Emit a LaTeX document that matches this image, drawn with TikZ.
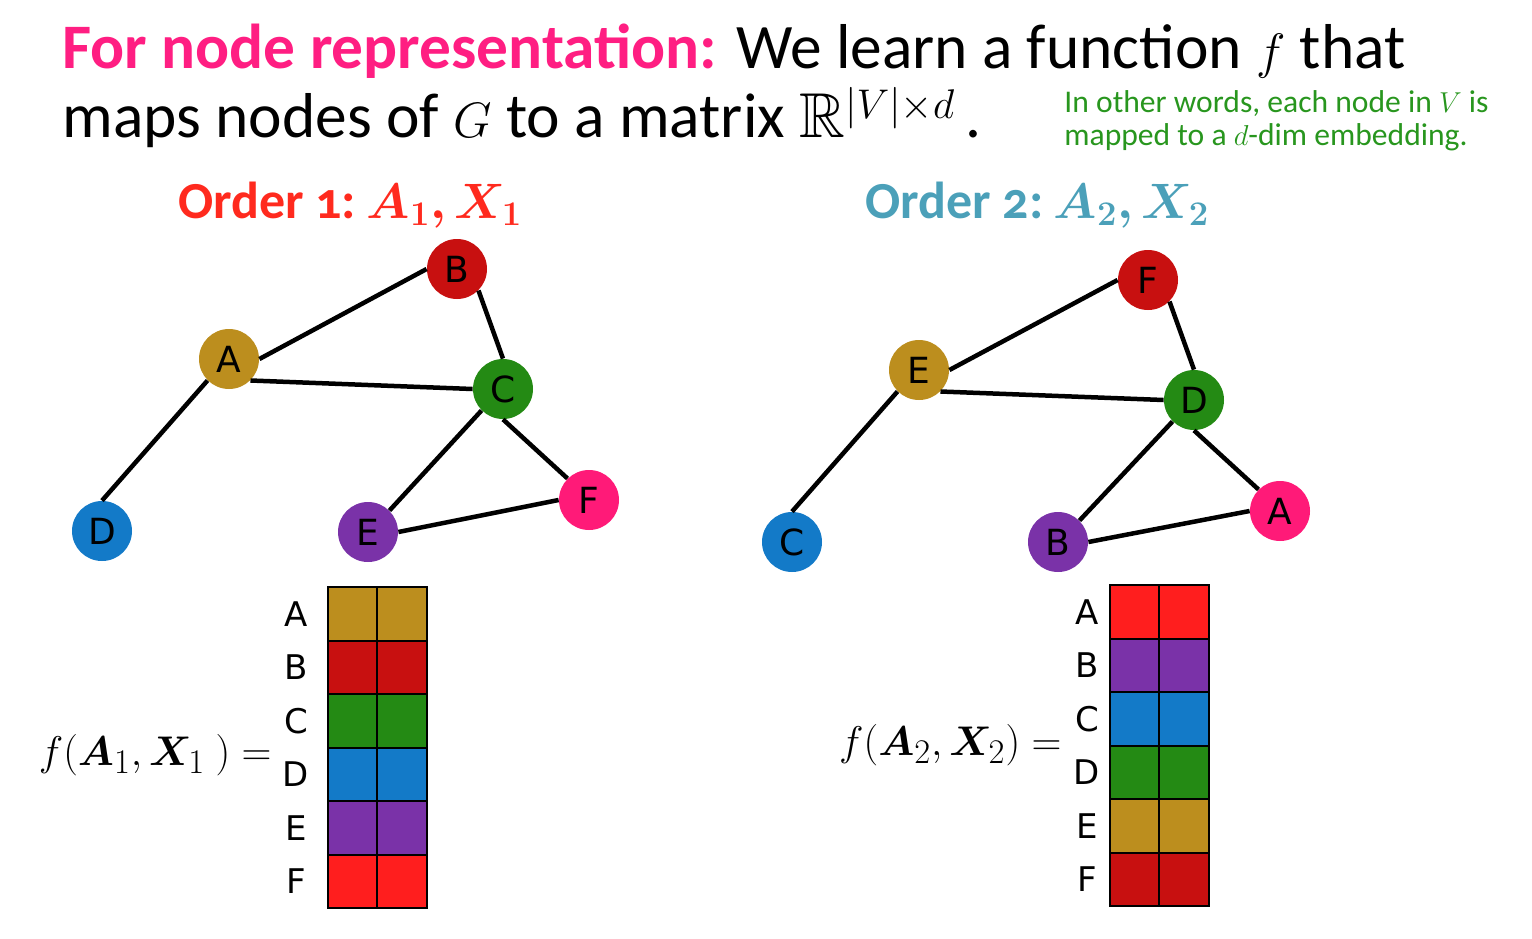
\documentclass[tikz,border=0pt]{standalone}
\usepackage{fontspec}
\usepackage{amsmath}
\usepackage{amssymb}
\usepackage{bm}
\setmainfont{Carlito}
\newfontfamily\nodefont{DejaVu Sans}
\usetikzlibrary{shapes}

\definecolor{nodegold}{RGB}{188,142,30}
\definecolor{nodered}{RGB}{200,16,16}
\definecolor{nodegreen}{RGB}{36,138,20}
\definecolor{nodeblue}{RGB}{19,122,200}
\definecolor{nodepurple}{RGB}{122,50,168}
\definecolor{nodepink}{RGB}{255,26,120}
\definecolor{cellred}{RGB}{255,30,30}
\definecolor{headpink}{RGB}{255,30,130}
\definecolor{notegreen}{RGB}{40,150,30}
\definecolor{orderred}{RGB}{255,42,30}
\definecolor{orderteal}{RGB}{75,160,185}

\tikzset{
	vertex/.style = {shape = circle,
					 minimum size = 30pt,
					 inner sep = 0pt,
					 font = \nodefont\fontsize{18}{18}\selectfont},
	edge/.style = {line width = 2.25pt},
	cell/.style = {draw = black,
				   line width = 1pt,
				   minimum width = 24.75pt,
				   minimum height = 26.75pt,
				   inner sep = 0pt,
				   outer sep = 0pt},
	rowlabel/.style = {font = \nodefont\fontsize{17}{17}\selectfont},
	plain/.style = {inner sep = 0pt}
}

\begin{document}
\begin{tikzpicture}[x = 0.5pt, y = -0.5pt]
	\useasboundingbox (0,0) rectangle (1532,938);

	% heading
	\draw (62,137) node[plain,
						anchor = base west,
						align = left,
						font = \fontsize{31.7}{34.5}\selectfont](head)
		{\textcolor{headpink}{\bfseries For node representation:} We learn a function $f$ that\\
		 maps nodes of $G$ to a matrix $\mathbb{R}^{|V|\times d}$\,.};
	\draw (1064,145) node[plain,
						  anchor = base west,
						  align = left,
						  text = notegreen,
						  font = \fontsize{15.8}{16.5}\selectfont](note)
		{In other words, each node in $V$ is\\
		 mapped to a $d$-dim embedding.};

	\draw (178,218) node[plain,
						 anchor = base west,
						 text = orderred,
						 font = \bfseries\fontsize{26}{30}\selectfont](order1)
		{Order {\addfontfeatures{Numbers=OldStyle}1}:\hspace{0.2em}$\bm{A_1{,}\mkern3mu X_1}$};
	\draw (865,218) node[plain,
						 anchor = base west,
						 text = orderteal,
						 font = \bfseries\fontsize{26}{30}\selectfont](order2)
		{Order {\addfontfeatures{Numbers=OldStyle}2}:\hspace{0.2em}$\bm{A_2{,}\mkern3mu X_2}$};

	% order 1 graph
	\draw (229,359) node[vertex, fill = nodegold](A1) {A};
	\draw (457,269) node[vertex, fill = nodered](B1) {B};
	\draw (503,389) node[vertex, fill = nodegreen](C1) {C};
	\draw (102,531) node[vertex, fill = nodeblue](D1) {D};
	\draw (368,532) node[vertex, fill = nodepurple](E1) {E};
	\draw (589,500) node[vertex, fill = nodepink](F1) {F};

	\draw[edge] (A1.0) -- (B1.180);
	\draw[edge] (A1.-45) -- (C1.180);
	\draw[edge] (A1.-135) -- (D1.90);
	\draw[edge] (B1.-45) -- (C1.90);
	\draw[edge] (C1.-135) -- (E1.45);
	\draw[edge] (C1.-90) -- (F1.135);
	\draw[edge] (E1.0) -- (F1.180);

	% order 2 graph
	\draw (1280,511) node[vertex, fill = nodepink](A2) {A};
	\draw (1058,542) node[vertex, fill = nodepurple](B2) {B};
	\draw (792,542) node[vertex, fill = nodeblue](C2) {C};
	\draw (1194,400) node[vertex, fill = nodegreen](D2) {D};
	\draw (919,370) node[vertex, fill = nodegold](E2) {E};
	\draw (1148,280) node[vertex, fill = nodered](F2) {F};

	\draw[edge] (E2.0) -- (F2.180);
	\draw[edge] (E2.-45) -- (D2.180);
	\draw[edge] (E2.-135) -- (C2.90);
	\draw[edge] (F2.-45) -- (D2.90);
	\draw[edge] (D2.-135) -- (B2.45);
	\draw[edge] (D2.-90) -- (A2.135);
	\draw[edge] (B2.0) -- (A2.180);

	% order 1 embedding
	\draw (272,755) node[plain,
						 anchor = east,
						 font = \fontsize{22.8}{26}\selectfont](f1)
		{$f(\bm{A}_1,\bm{X}_1\ )=$};
	\draw (352.5,614) node[cell, fill = nodegold](mA1a) {} (402,614) node[cell, fill = nodegold](mA1b) {} (296,614) node[rowlabel](tA1) {A};
	\draw (352.5,667.5) node[cell, fill = nodered](mB1a) {} (402,667.5) node[cell, fill = nodered](mB1b) {} (296,667.5) node[rowlabel](tB1) {B};
	\draw (352.5,721) node[cell, fill = nodegreen](mC1a) {} (402,721) node[cell, fill = nodegreen](mC1b) {} (296,721) node[rowlabel](tC1) {C};
	\draw (352.5,774.5) node[cell, fill = nodeblue](mD1a) {} (402,774.5) node[cell, fill = nodeblue](mD1b) {} (296,774.5) node[rowlabel](tD1) {D};
	\draw (352.5,828) node[cell, fill = nodepurple](mE1a) {} (402,828) node[cell, fill = nodepurple](mE1b) {} (296,828) node[rowlabel](tE1) {E};
	\draw (352.5,881.5) node[cell, fill = cellred](mF1a) {} (402,881.5) node[cell, fill = cellred](mF1b) {} (296,881.5) node[rowlabel](tF1) {F};

	% order 2 embedding
	\draw (1062,745) node[plain,
						  anchor = east,
						  font = \fontsize{22.8}{26}\selectfont](f2)
		{$f(\bm{A}_2,\bm{X}_2)=$};
	\draw (1134.5,612) node[cell, fill = cellred](mA2a) {} (1184,612) node[cell, fill = cellred](mA2b) {} (1087,612) node[rowlabel](tA2) {A};
	\draw (1134.5,665.5) node[cell, fill = nodepurple](mB2a) {} (1184,665.5) node[cell, fill = nodepurple](mB2b) {} (1087,665.5) node[rowlabel](tB2) {B};
	\draw (1134.5,719) node[cell, fill = nodeblue](mC2a) {} (1184,719) node[cell, fill = nodeblue](mC2b) {} (1087,719) node[rowlabel](tC2) {C};
	\draw (1134.5,772.5) node[cell, fill = nodegreen](mD2a) {} (1184,772.5) node[cell, fill = nodegreen](mD2b) {} (1087,772.5) node[rowlabel](tD2) {D};
	\draw (1134.5,826) node[cell, fill = nodegold](mE2a) {} (1184,826) node[cell, fill = nodegold](mE2b) {} (1087,826) node[rowlabel](tE2) {E};
	\draw (1134.5,879.5) node[cell, fill = nodered](mF2a) {} (1184,879.5) node[cell, fill = nodered](mF2b) {} (1087,879.5) node[rowlabel](tF2) {F};
\end{tikzpicture}
\end{document}
